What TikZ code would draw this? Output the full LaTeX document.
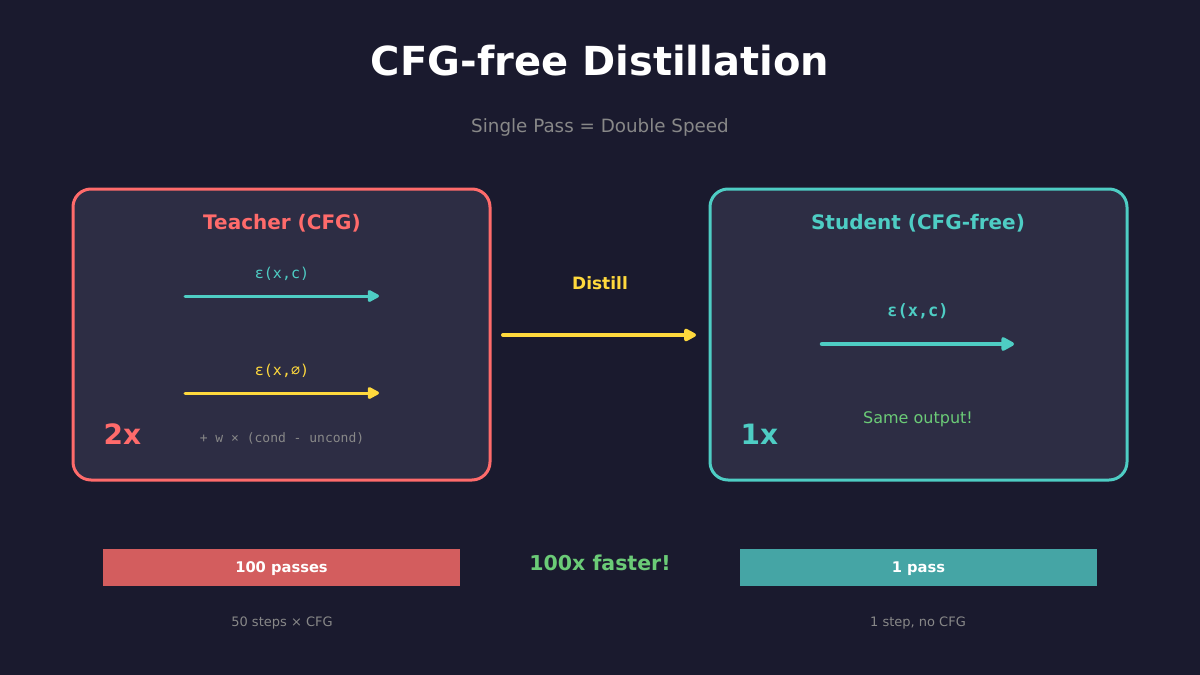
\documentclass[tikz,border=0pt]{standalone}
\usepackage{fontspec}
\setmainfont{DejaVu Sans}
\setmonofont{DejaVu Sans Mono}
\usetikzlibrary{arrows.meta}
\definecolor{bg}{HTML}{1A1A2E}
\definecolor{panel}{HTML}{2D2D44}
\definecolor{cred}{HTML}{FF6B6B}
\definecolor{cteal}{HTML}{4ECDC4}
\definecolor{cyel}{HTML}{FFD93D}
\definecolor{cgreen}{HTML}{6BCB77}
\definecolor{cgray}{HTML}{888888}
\definecolor{barred}{HTML}{D35D5E}
\definecolor{barteal}{HTML}{45A5A5}
\tikzset{
  panelbox/.style={draw, line width=3pt, fill=panel, rounded corners=18pt, minimum width=417pt, minimum height=291pt, inner sep=0pt},
  txt/.style={inner sep=0pt, anchor=center},
  arr/.style 2 args={line width=#1, line cap=round, -{Triangle[length=#2,width=#2,round]}},
  bar/.style={inner sep=0pt, minimum width=357pt, minimum height=37pt},
}
\begin{document}
\begin{tikzpicture}[x=1pt,y=-1pt]
\fill[bg] (0,0) rectangle (1200,675);
\useasboundingbox (0,0) rectangle (1200,675);

\node[txt, text=white, font=\fontsize{40}{48}\selectfont\bfseries] (title) at (600,61) {CFG-free Distillation};
\node[txt, text=cgray, font=\fontsize{18.3}{22}\selectfont] (sub) at (600,127) {Single Pass = Double Speed};

% Teacher
\node[panelbox, draw=cred] (teacher) at (281.5,334.5) {};
\node[txt, text=cred, font=\fontsize{20}{24}\selectfont\bfseries] (tt) at (282,223.5) {Teacher (CFG)};
\node[txt, text=cteal, font=\fontsize{15}{18}\selectfont\ttfamily] (tc) at (282,273.5) {ε(x,c)};
\coordinate (ta1) at (185,296); \coordinate (ta2) at (379,296);
\draw[arr={3pt}{13pt}, cteal] (ta1) -- (ta2);
\node[txt, text=cyel, font=\fontsize{15}{18}\selectfont\ttfamily] (tu) at (282,370.5) {ε(x,∅)};
\coordinate (tb1) at (185,393); \coordinate (tb2) at (379,393);
\draw[arr={3pt}{13pt}, cyel] (tb1) -- (tb2);
\node[txt, text=cred, font=\fontsize{28}{32}\selectfont\bfseries] (t2x) at (122.5,434) {2x};
\node[txt, text=cgray, font=\fontsize{13}{16}\selectfont\ttfamily] (tf) at (282,438.5) {+ w × (cond - uncond)};

% Student
\node[panelbox, draw=cteal] (student) at (918.5,334.5) {};
\node[txt, text=cteal, font=\fontsize{20}{24}\selectfont\bfseries] (st) at (918,223.5) {Student (CFG-free)};
\node[txt, text=cteal, font=\fontsize{17}{20}\selectfont\ttfamily\bfseries] (sc) at (918,311.5) {ε(x,c)};
\coordinate (sa1) at (822,344); \coordinate (sa2) at (1014,344);
\draw[arr={4.5pt}{15pt}, cteal] (sa1) -- (sa2);
\node[txt, text=cgreen, font=\fontsize{16}{19}\selectfont] (so) at (918,419) {Same output!};
\node[txt, text=cteal, font=\fontsize{28}{32}\selectfont\bfseries] (s1x) at (759.5,434) {1x};

% Distill
\node[txt, text=cyel, font=\fontsize{17}{20}\selectfont\bfseries] (dl) at (600,283) {Distill};
\coordinate (d1) at (503,335); \coordinate (d2) at (696,335);
\draw[arr={4pt}{14pt}, cyel] (d1) -- (d2);

% Bars
\node[bar, fill=barred] (rb) at (281.5,567.5) {};
\node[txt, text=white, font=\fontsize{14.7}{18}\selectfont\bfseries] (rbt) at ([yshift=-1.5pt]rb.center) {100 passes};
\node[bar, fill=barteal] (gb) at (918.5,567.5) {};
\node[txt, text=white, font=\fontsize{14.7}{18}\selectfont\bfseries] (gbt) at ([yshift=-1.5pt]gb.center) {1 pass};
\node[txt, text=cgreen, font=\fontsize{20.5}{25}\selectfont\bfseries] (fast) at (600,563) {100x faster!};
\node[txt, text=cgray, font=\fontsize{13}{16}\selectfont] (rl) at (282,623.5) {50 steps × CFG};
\node[txt, text=cgray, font=\fontsize{13}{16}\selectfont] (gl) at (918,623.5) {1 step, no CFG};
\end{tikzpicture}
\end{document}
